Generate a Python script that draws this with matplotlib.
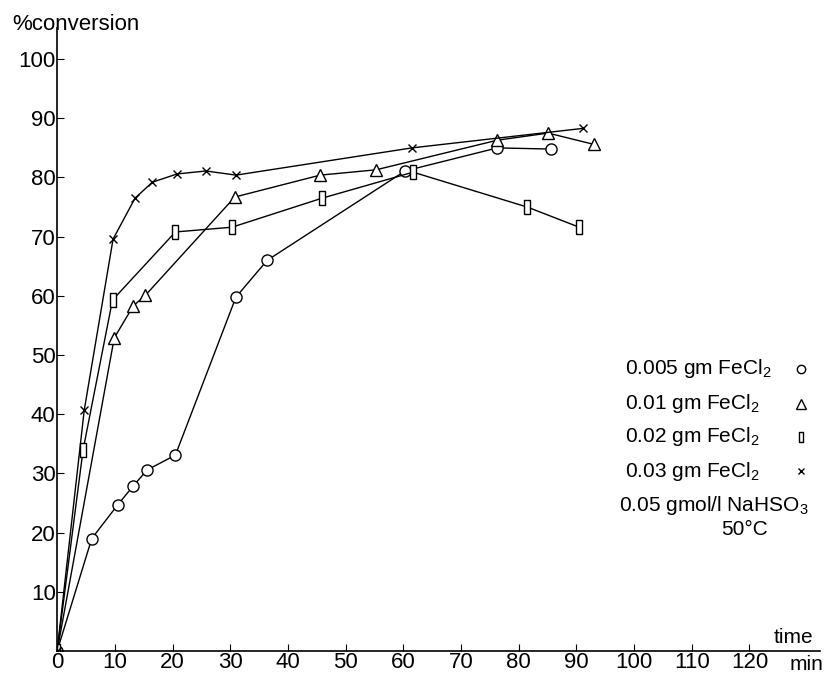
import matplotlib
matplotlib.use("Agg")
import matplotlib.pyplot as plt

plt.rcParams["font.family"] = ["Liberation Sans", "DejaVu Sans"]
plt.rcParams["mathtext.fontset"] = "custom"
plt.rcParams["mathtext.rm"] = "Liberation Sans"

# data (time in min, % conversion)
t_005 = [0, 6, 10.5, 13.2, 15.6, 20.5, 31, 36.4, 60.3, 76.3, 85.6]
c_005 = [0, 19, 24.7, 27.9, 30.6, 33.1, 59.8, 66, 81.1, 85, 84.8]

t_01 = [0, 9.9, 13.2, 15.3, 30.8, 45.6, 55.3, 76.3, 85.1, 93]
c_01 = [0, 52.9, 58.3, 60.1, 76.7, 80.4, 81.3, 86.3, 87.5, 85.6]

t_02 = [0, 4.5, 9.6, 20.5, 30.3, 45.9, 61.7, 81.5, 90.5]
c_02 = [0, 34, 59.3, 70.8, 71.6, 76.5, 80.9, 75, 71.6]

t_03 = [0, 4.7, 9.7, 13.5, 16.5, 20.8, 25.8, 31, 61.5, 91.2]
c_03 = [0, 40.7, 69.6, 76.5, 79.2, 80.6, 81.1, 80.4, 85, 88.3]

legend_labels = ["0.005 gm FeCl$_2$", "0.01 gm FeCl$_2$", "0.02 gm FeCl$_2$",
                 "0.03 gm FeCl$_2$"]
extra_labels = ["0.05 gmol/l NaHSO$_3$", "50°C"]
xticks = list(range(0, 130, 10))
yticks = list(range(10, 110, 10))

rect = [(-0.45, -1), (0.45, -1), (0.45, 1), (-0.45, 1), (-0.45, -1)]
styles = [
    (t_005, c_005, dict(marker="o", ms=8)),
    (t_01, c_01, dict(marker="^", ms=9)),
    (t_02, c_02, dict(marker=rect, ms=10)),
    (t_03, c_03, dict(marker="x", ms=6)),
]

fig = plt.figure(figsize=(8.4, 6.74), dpi=100)
ax = fig.add_axes([0.068, 0.034, 0.908, 0.924])

for t, c, st in styles:
    ax.plot(t, c, color="black", lw=1.0, mfc="white", mec="black", mew=1.0, **st)

ax.set_xlim(0, 132.2)
ax.set_ylim(0, 105.2)
ax.spines["top"].set_visible(False)
ax.spines["right"].set_visible(False)
ax.spines["left"].set_linewidth(1.2)
ax.spines["bottom"].set_linewidth(1.2)
ax.set_xticks(xticks)
ax.set_yticks(yticks)
ax.tick_params(direction="in", length=5, labelsize=16, pad=1)

ax.text(-0.059, 0.997, "%conversion", transform=ax.transAxes, fontsize=16,
        ha="left", va="baseline")
ax.text(0.94, 0.006, "time", transform=ax.transAxes, fontsize=15,
        ha="left", va="bottom")
ax.text(0.96, -0.006, "min", transform=ax.transAxes, fontsize=15,
        ha="left", va="top")

# hand-made legend
lx, mx = 0.745, 0.975
ys = [0.453, 0.397, 0.344, 0.289]
for (t, c, st), lab, y in zip(styles, legend_labels, ys):
    ax.text(lx, y, lab, transform=ax.transAxes, fontsize=15, ha="left", va="center")
    st2 = dict(st)
    st2["ms"] = st["ms"] * 0.75
    ax.plot([mx], [y], transform=ax.transAxes, ls="none", color="black",
            mfc="white", mec="black", mew=1.0, clip_on=False, **st2)
ax.text(lx - 0.008, 0.234, extra_labels[0], transform=ax.transAxes,
        fontsize=15, ha="left", va="center")
ax.text(0.87, 0.195, extra_labels[1], transform=ax.transAxes, fontsize=15,
        ha="left", va="center")

fig.savefig("out.png", dpi=100)
